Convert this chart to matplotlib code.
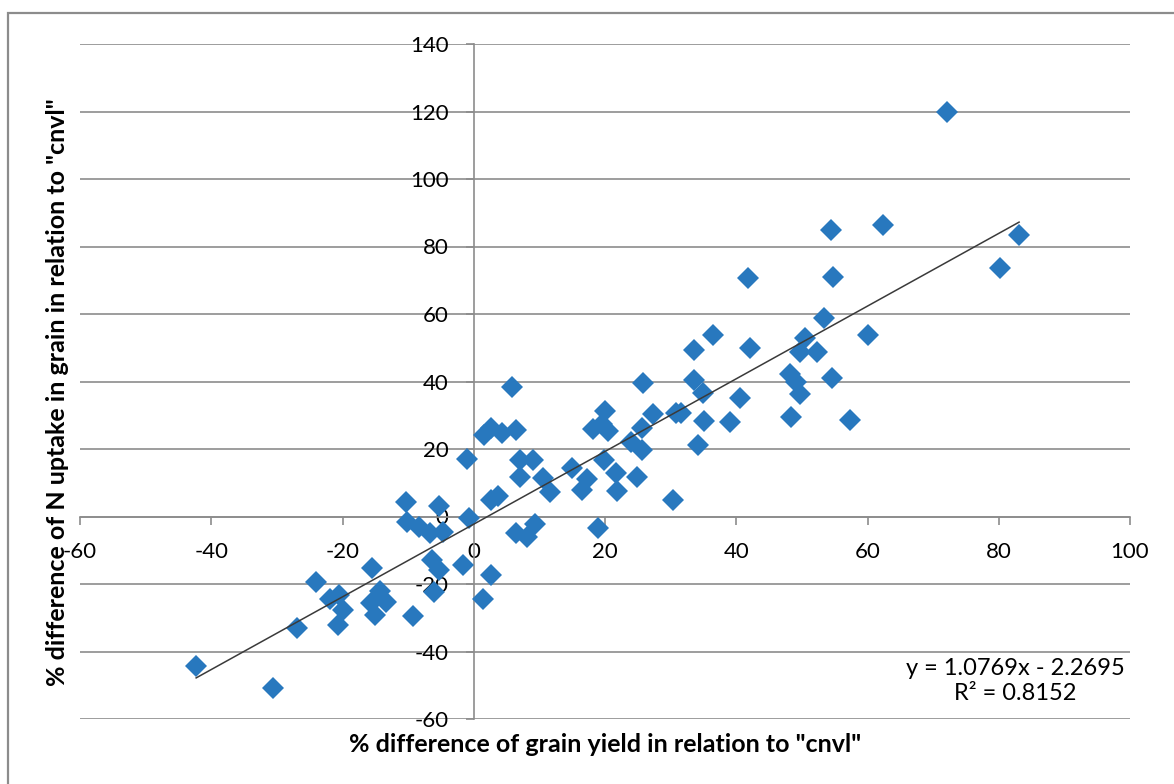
import matplotlib.pyplot as plt
from matplotlib.patches import Rectangle

plt.rcParams['font.family'] = ['Lato', 'DejaVu Sans']
plt.rcParams['axes.unicode_minus'] = False

# % difference of grain yield (x) and of N uptake in grain (y), relative to "cnvl"
yield_diff = [
    -42.3, -30.6, -26.9, -24.0, -21.9, -20.5, -20.0, -20.7, -15.5, -15.7,
    -14.3, -13.4, -15.0, -9.3, -6.4, -5.3, -6.0, -1.6, 1.4, 2.6,
    -10.3, -10.2, -8.4, -6.7, -5.3, -4.7, -0.8, -1.1, 1.5, 2.7,
    4.3, 6.5, 5.9, 7.0, 9.1, 7.0, 10.6, 11.6, 2.7, 3.7,
    6.4, 8.1, 9.4,
    14.9, 16.5, 17.2, 18.2, 19.5, 20.0, 20.4, 19.0, 19.8, 21.6,
    21.9, 24.8, 25.8, 23.9, 25.7, 25.6, 27.3, 30.4, 30.8, 31.6,
    33.5, 34.2, 35.0, 35.1, 36.5, 33.5, 42.1, 40.6, 39.0, 41.8,
    48.2, 49.1, 49.7, 49.7, 50.4, 52.3, 53.3, 54.6, 48.4, 57.3,
    60.1, 54.5, 54.7, 62.3, 72.1, 80.2, 83.1,
]
n_uptake_diff = [
    -44.3, -50.8, -33.0, -19.4, -24.3, -23.3, -27.6, -32.1, -15.3, -25.7,
    -22.0, -25.2, -29.2, -29.5, -12.9, -15.9, -22.5, -14.5, -24.4, -17.3,
    4.4, -1.5, -3.0, -5.0, 3.0, -4.5, -0.5, 17.0, 24.1, 26.1,
    24.7, 25.6, 38.5, 16.7, 16.7, 11.8, 11.3, 7.3, 4.9, 6.2,
    -5.0, -6.0, -2.3,
    14.3, 7.9, 11.0, 26.0, 27.3, 31.3, 25.3, -3.5, 16.7, 12.8,
    7.6, 11.8, 39.5, 22.2, 19.7, 26.1, 30.4, 4.9, 30.6, 30.8,
    40.4, 21.3, 36.5, 28.3, 53.8, 49.3, 49.8, 35.0, 28.0, 70.6,
    42.2, 39.9, 36.2, 48.6, 53.0, 48.6, 58.9, 40.9, 29.5, 28.6,
    53.8, 84.9, 71.1, 86.4, 119.9, 73.7, 83.4,
]

# linear trendline reported on the chart
slope = 1.0769
intercept = -2.2695
r_squared = 0.8152

x_ticks = list(range(-60, 101, 20))
y_ticks = list(range(-60, 141, 20))

W, H = 1174, 784
grey = '#8c8c8c'
blue = '#2878be'

fig = plt.figure(figsize=(W / 100, H / 100), dpi=100)
ax = fig.add_axes([80 / W, 65 / H, 1050 / W, 675 / H])

# outer chart border, cut off at the right and bottom
fig.patches.append(Rectangle((8 / W, -0.05), 1.2, 1 - 13 / H + 0.05,
                             transform=fig.transFigure, fill=False,
                             edgecolor=grey, linewidth=1.6, clip_on=False))

ax.set_xlim(-60, 100)
ax.set_ylim(-60, 140)
ax.set_xticks(x_ticks)
ax.set_yticks(y_ticks)

# axes crossing at zero, Excel style
ax.spines['left'].set_position(('data', 0))
ax.spines['bottom'].set_position(('data', 0))
ax.spines['top'].set_visible(False)
ax.spines['right'].set_visible(False)
for side in ['left', 'bottom']:
    ax.spines[side].set_color(grey)
    ax.spines[side].set_linewidth(1.2)

ax.yaxis.grid(True, color=grey, linewidth=1.2)
ax.set_axisbelow(True)
ax.tick_params(axis='both', direction='out', length=6, width=1.2, color=grey,
               labelsize=16, labelcolor='black')
ax.tick_params(axis='x', pad=12)
ax.tick_params(axis='y', pad=12)

ax.plot(yield_diff, n_uptake_diff, linestyle='none', marker='D',
        markersize=11.5, color=blue, markeredgewidth=0, zorder=3)

x_fit = [min(yield_diff), max(yield_diff)]
y_fit = [slope * v + intercept for v in x_fit]
ax.plot(x_fit, y_fit, color='#3a3a3a', linewidth=1.1, zorder=4)

ax.text(1015 / W, 1 - 681 / H, f"y = {slope}x - {abs(intercept)}\nR² = {r_squared}",
        transform=fig.transFigure, ha='center', va='center', fontsize=17,
        linespacing=1.2)

fig.text(605 / W, 1 - 745 / H, '% difference of grain yield in relation to "cnvl"',
         ha='center', va='center', fontsize=18, fontweight='bold')
fig.text(58 / W, 1 - 392 / H, '% difference of N uptake in grain in relation to "cnvl"',
         ha='center', va='center', rotation=90, fontsize=18, fontweight='bold')

fig.savefig('out.png', dpi=100)
